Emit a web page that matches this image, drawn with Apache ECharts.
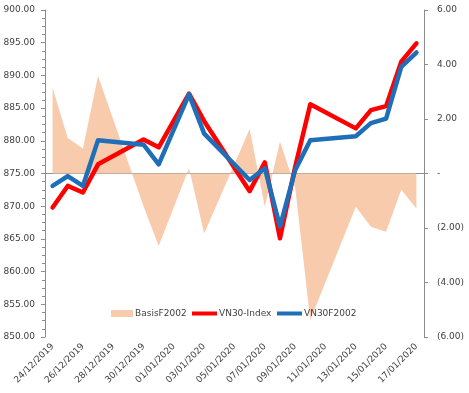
<!DOCTYPE html>
<html>
<head>
<meta charset="utf-8">
<script src="https://cdn.jsdelivr.net/npm/echarts@6/dist/echarts.min.js"></script>
<style>html,body{margin:0;padding:0;background:#fff}#c{width:469px;height:393px}</style>
</head>
<body>
<div id="c"></div>
<script>
var categories = ['24/12/2019','25/12/2019','26/12/2019','27/12/2019','28/12/2019','29/12/2019','30/12/2019','31/12/2019','01/01/2020','02/01/2020','03/01/2020','04/01/2020','05/01/2020','06/01/2020','07/01/2020','08/01/2020','09/01/2020','10/01/2020','11/01/2020','12/01/2020','13/01/2020','14/01/2020','15/01/2020','16/01/2020','17/01/2020'];
var vn30Index = [869.8,873.1,872.1,876.4,null,null,880.2,879.0,null,887.2,883.0,null,null,872.3,876.7,865.1,876.0,885.6,null,null,881.9,884.7,885.3,892.1,894.9];
var vn30F2002 = [873.1,874.6,873.1,880.1,null,null,879.4,876.4,null,887.1,881.1,null,null,874.0,875.8,866.9,875.5,880.1,null,null,880.7,882.7,883.4,891.3,893.5];
var basisF2002 = [3.15,1.3,0.92,3.58,null,null,-1.2,-2.66,null,0.19,-2.2,null,null,1.63,-1.22,1.17,-0.5,-5.38,null,null,-1.22,-1.95,-2.14,-0.6,-1.28];
var seriesNames = ['BasisF2002','VN30-Index','VN30F2002'];

var font = 'DejaVu Sans';
var txt = '#404040';
var axisCol = '#8c8c8c';
var chart = echarts.init(document.getElementById('c'), null, {renderer:'canvas'});
function legendAt(name, left, w, h, icon){
  return {data:[{name:name, icon:icon}], left:left, top:309, itemWidth:w, itemHeight:h, itemGap:0, padding:0,
    textStyle:{fontFamily:font, fontSize:9, color:txt, padding:[0,0,0,-3]}, selectedMode:false};
}
chart.setOption({
  animation:false,
  backgroundColor:'#fff',
  grid:{left:45, right:45, top:10, bottom:56, containLabel:false},
  legend:[
    legendAt(seriesNames[0], 111, 22, 7, 'rect'),
    legendAt(seriesNames[1], 192, 25, 4, 'rect'),
    legendAt(seriesNames[2], 277, 25, 4, 'rect')
  ],
  xAxis:{type:'category', data:categories, boundaryGap:true,
    axisLine:{lineStyle:{color:axisCol}},
    axisTick:{interval:1, alignWithLabel:false, length:5, lineStyle:{color:axisCol}},
    axisLabel:{interval:1, rotate:45, margin:8, fontFamily:font, fontSize:9, color:txt},
    splitLine:{show:false}},
  yAxis:[
    {type:'value', min:850, max:900, interval:5, position:'left',
     axisLine:{show:true, lineStyle:{color:axisCol}},
     axisTick:{show:true, length:4, lineStyle:{color:axisCol}},
     minorTick:{show:true, splitNumber:4, length:3, lineStyle:{color:axisCol}},
     axisLabel:{margin:10, fontFamily:font, fontSize:9, color:txt, formatter:function(v){return v.toFixed(2);}},
     splitLine:{show:false}},
    {type:'value', min:-6, max:6, interval:2, position:'right',
     axisLine:{show:true, lineStyle:{color:axisCol}},
     axisTick:{show:true, length:4, lineStyle:{color:axisCol}},
     axisLabel:{margin:13, fontFamily:font, fontSize:9, color:txt, align:'left',
       formatter:function(v){ if (Math.abs(v)<1e-9) return '-'; return v<0 ? '('+Math.abs(v).toFixed(2)+')' : v.toFixed(2); }},
     splitLine:{show:false}}
  ],
  series:[
    {name:seriesNames[0], type:'line', yAxisIndex:1, data:basisF2002, connectNulls:true, symbol:'none',
     lineStyle:{width:0}, itemStyle:{color:'#F8CBAD'}, areaStyle:{color:'#F8CBAD', opacity:1, origin:0}, z:1},
    {name:seriesNames[1], type:'line', yAxisIndex:0, data:vn30Index, connectNulls:true, symbol:'none',
     lineStyle:{width:4.5, color:'#FF0000', join:'round', cap:'round'}, itemStyle:{color:'#FF0000'}, z:2},
    {name:seriesNames[2], type:'line', yAxisIndex:0, data:vn30F2002, connectNulls:true, symbol:'none',
     lineStyle:{width:4.5, color:'#1F6FB8', join:'round', cap:'round'}, itemStyle:{color:'#1F6FB8'}, z:3}
  ]
});
</script>
</body>
</html>
